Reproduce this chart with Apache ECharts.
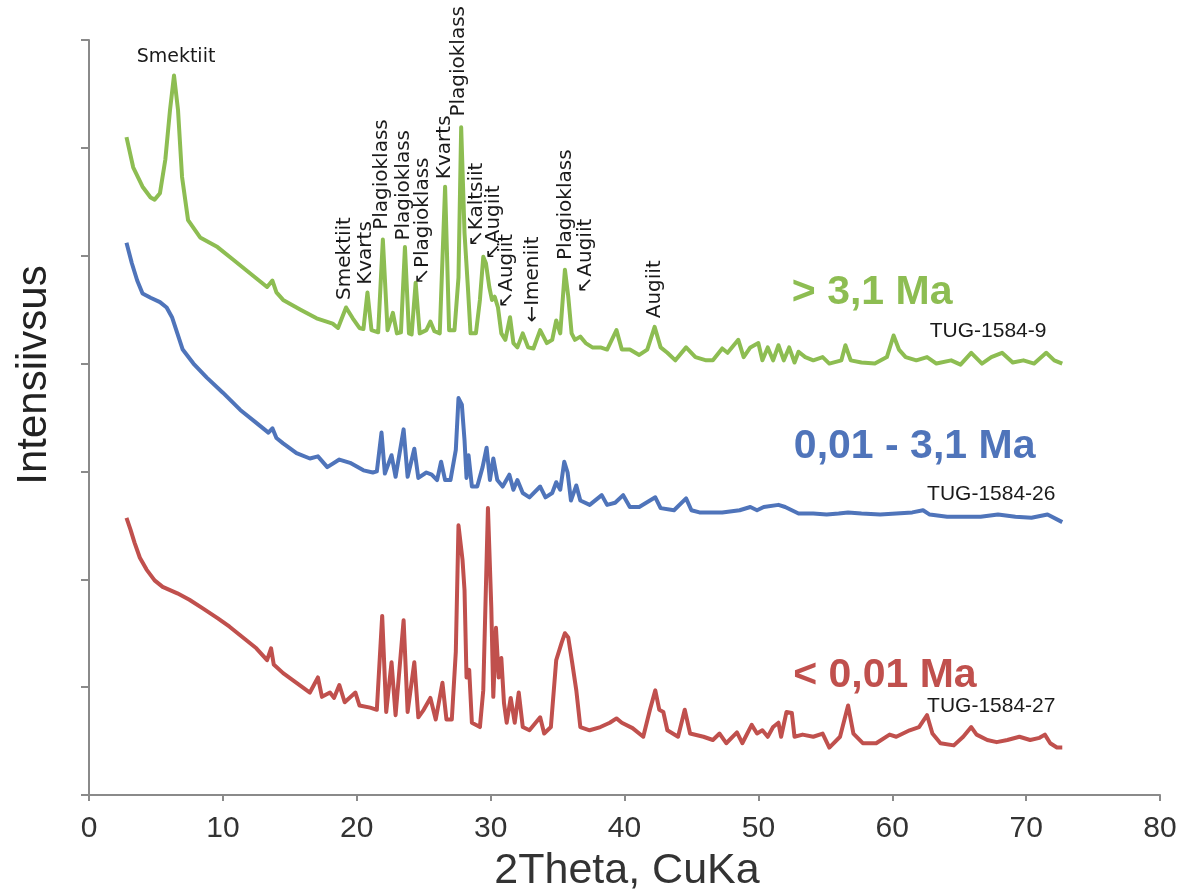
<!DOCTYPE html>
<html>
<head>
<meta charset="utf-8">
<title>XRD – Intensiivsus vs 2Theta</title>
<script src="https://cdn.jsdelivr.net/npm/echarts@6/dist/echarts.min.js"></script>
<style>
  html, body { margin: 0; padding: 0; background: #fff; }
  #chart { width: 1180px; height: 892px; }
</style>
</head>
<body>
<div id="chart"></div>
<script>
// [2Theta, intensity]
const greenPattern = [
  [2.8,6100],[3.3,5820],[4.0,5640],[4.6,5540],[4.9,5520],[5.3,5580],[5.7,5890],[6.05,6350],[6.35,6670],[6.65,6350],
  [6.95,5730],[7.4,5330],[8.3,5170],[9.6,5080],[10.8,4960],[12.0,4840],[13.3,4710],[13.7,4770],[14.0,4660],[14.5,4590],
  [15.8,4500],[17.0,4420],[18.2,4370],[18.6,4330],[19.2,4520],[19.7,4420],[20.2,4330],[20.5,4320],[20.8,4660],[21.1,4310],
  [21.6,4290],[21.95,5150],[22.3,4310],[22.7,4470],[23.0,4280],[23.3,4290],[23.6,5080],[23.9,4280],[24.1,4270],[24.4,4750],
  [24.7,4280],[25.2,4310],[25.5,4390],[25.8,4300],[26.2,4280],[26.6,5640],[26.9,4310],[27.3,4310],[27.6,4800],[27.8,6190],
  [28.05,5210],[28.3,4710],[28.5,4280],[28.9,4280],[29.2,4590],[29.45,4990],[29.65,4930],[29.9,4710],[30.1,4590],[30.3,4620],
  [30.55,4520],[30.8,4280],[31.1,4220],[31.45,4430],[31.7,4190],[32.0,4150],[32.4,4280],[32.8,4150],[33.2,4140],[33.7,4310],
  [34.2,4190],[34.6,4220],[34.9,4400],[35.2,4280],[35.55,4870],[35.8,4620],[36.05,4280],[36.3,4220],[36.7,4250],[37.1,4190],
  [37.6,4150],[38.2,4150],[38.7,4130],[39.4,4310],[39.8,4130],[40.4,4130],[41.1,4080],[41.7,4130],[42.25,4340],[42.7,4150],
  [43.2,4100],[43.8,4030],[44.6,4150],[45.3,4060],[46.1,4030],[46.6,4030],[47.3,4140],[47.7,4100],[48.5,4220],[48.9,4060],
  [49.4,4150],[50.0,4190],[50.3,4030],[50.7,4150],[51.1,4030],[51.5,4170],[51.9,4030],[52.3,4150],[52.7,4010],[53.0,4110],
  [53.5,4060],[54.1,4030],[54.8,4060],[55.3,4000],[56.2,4030],[56.5,4170],[56.9,4030],[57.7,4010],[58.7,4000],[59.6,4060],
  [60.1,4260],[60.5,4130],[61.0,4060],[61.8,4030],[62.6,4060],[63.3,4000],[64.4,4030],[65.1,3990],[65.9,4100],[66.7,4000],
  [67.4,4060],[68.2,4100],[69.0,4010],[69.8,4030],[70.6,4000],[71.5,4100],[72.1,4030],[72.7,4000]
];

const bluePattern = [
  [2.8,5120],[3.2,4930],[3.6,4770],[4.0,4650],[4.6,4610],[5.3,4570],[5.8,4520],[6.2,4430],[6.6,4280],[7.0,4130],
  [7.8,4000],[8.8,3870],[10.0,3730],[11.3,3570],[12.5,3450],[13.4,3360],[13.7,3400],[14.0,3310],[14.5,3260],[15.5,3170],
  [16.5,3120],[17.1,3140],[17.8,3040],[18.7,3110],[19.5,3080],[20.5,3010],[21.2,2990],[21.5,3000],[21.85,3360],[22.1,2980],
  [22.6,3150],[22.9,2950],[23.5,3390],[23.8,2950],[24.3,3210],[24.6,2940],[25.2,2990],[25.6,2970],[26.0,2920],[26.3,3090],
  [26.6,2920],[27.0,2920],[27.4,3200],[27.6,3680],[27.85,3620],[28.05,3290],[28.2,2940],[28.35,3150],[28.6,2860],[29.0,2860],
  [29.4,3040],[29.7,3220],[29.95,2920],[30.2,3120],[30.5,2920],[30.9,2860],[31.4,2970],[31.7,2830],[32.0,2920],[32.4,2800],
  [32.9,2760],[33.7,2860],[34.1,2760],[34.6,2800],[34.9,2900],[35.2,2830],[35.5,3090],[35.75,2990],[36.0,2730],[36.4,2870],
  [36.7,2730],[37.4,2690],[38.3,2780],[38.7,2690],[39.3,2710],[39.9,2780],[40.4,2670],[41.1,2670],[42.3,2760],[42.7,2660],
  [43.7,2640],[44.6,2750],[45.0,2640],[45.6,2620],[46.1,2620],[47.3,2620],[48.6,2640],[49.4,2670],[49.9,2640],[50.4,2670],
  [51.5,2690],[52.0,2670],[53.0,2610],[54.1,2610],[55.1,2600],[56.0,2610],[56.7,2620],[57.7,2610],[59.1,2600],[60.3,2610],
  [61.5,2620],[62.3,2640],[62.8,2600],[64.1,2580],[65.4,2580],[66.6,2580],[67.9,2600],[69.2,2580],[70.4,2570],[71.6,2600],
  [72.7,2530]
];

const redPattern = [
  [2.8,2570],[3.1,2460],[3.4,2340],[3.8,2200],[4.3,2090],[4.9,1990],[5.5,1930],[6.6,1870],[7.5,1810],[8.5,1730],
  [9.6,1640],[10.5,1560],[11.5,1460],[12.5,1360],[13.3,1250],[13.6,1360],[13.8,1210],[14.5,1130],[15.5,1040],[16.5,950],
  [17.1,1090],[17.4,910],[18.0,950],[18.3,900],[18.7,1020],[19.1,860],[19.9,950],[20.2,830],[21.0,810],[21.5,790],
  [21.9,1660],[22.2,770],[22.6,1230],[22.9,740],[23.5,1620],[23.8,770],[24.3,1230],[24.6,720],[25.0,790],[25.5,900],
  [25.9,700],[26.4,1040],[26.7,700],[27.1,700],[27.4,1330],[27.6,2500],[27.9,2180],[28.05,1900],[28.2,1090],[28.4,1160],
  [28.6,670],[29.2,630],[29.45,970],[29.8,2660],[30.05,1740],[30.2,910],[30.4,1550],[30.6,1090],[30.8,1270],[31.0,850],
  [31.2,670],[31.5,900],[31.8,670],[32.1,950],[32.4,630],[32.9,600],[33.7,720],[34.0,570],[34.5,630],[34.9,1250],
  [35.3,1410],[35.55,1500],[35.8,1460],[36.1,1220],[36.4,970],[36.7,630],[37.4,600],[38.2,630],[38.9,670],[39.4,710],
  [39.8,670],[40.6,620],[41.4,540],[41.9,790],[42.3,970],[42.6,790],[42.9,770],[43.2,600],[44.0,540],[44.5,790],
  [44.9,570],[45.9,540],[46.6,510],[47.1,570],[47.6,480],[48.4,580],[48.8,480],[49.5,650],[49.9,570],[50.3,600],
  [50.7,540],[51.1,630],[51.5,670],[51.7,540],[52.1,770],[52.5,760],[52.7,540],[53.3,560],[54.1,540],[54.8,570],
  [55.3,440],[56.1,540],[56.7,830],[57.1,570],[57.8,480],[58.8,480],[59.8,560],[60.3,540],[61.3,600],[62.0,630],
  [62.6,740],[63.0,570],[63.6,480],[64.6,460],[65.3,540],[65.9,630],[66.3,560],[67.1,510],[67.8,490],[68.6,510],
  [69.5,540],[70.3,510],[71.0,530],[71.4,560],[71.8,480],[72.3,440],[72.7,440]
];

const xTicks = [0, 80, 10];           // min, max, step
const yTicks = [0, 7000, 1000];

// mineral names: [text, 2Theta, intensity at foot of the text]
const mineralLabels = [
  ['Smektiit', 19.1, 4590],
  ['Kvarts', 20.7, 4730],
  ['Plagioklass', 21.9, 5240],
  ['Plagioklass', 23.5, 5140],
  ['\u2196Plagioklass', 24.9, 4730],
  ['Kvarts', 26.6, 5710],
  ['Plagioklass', 27.65, 6290],
  ['\u2196Kaltsiit', 29.0, 5080],
  ['\u2196Augiit', 30.2, 4960],
  ['\u2196Augiit', 31.2, 4510],
  ['\u2190Imeniit', 33.15, 4380],
  ['Plagioklass', 35.6, 4960],
  ['\u2196Augiit', 37.1, 4650],
  ['Augiit', 42.3, 4420]
];
const topLabel = ['Smektiit', 6.5, 6840];

const sampleAges = ['> 3,1 Ma', '0,01 - 3,1 Ma', '< 0,01 Ma'];
const sampleIds = ['TUG-1584-9', 'TUG-1584-26', 'TUG-1584-27'];
const ageAt = [[52.5, 4660], [52.65, 3230], [52.6, 1110]];
const idAt = [[62.8, 4300], [62.6, 2790], [62.6, 820]];

const colors = ['#8dbd52', '#4f74ba', '#c0504d'];
const patterns = [greenPattern, bluePattern, redPattern];

const arial = "'Liberation Sans', Arial, sans-serif";
const axisGrey = '#8a8a8a';

const chart = echarts.init(document.getElementById('chart'));

const lineSeries = patterns.map((data, i) => ({
  name: sampleIds[i],
  type: 'line',
  data: data,
  showSymbol: false,
  smooth: false,
  z: 2,
  lineStyle: { width: 4, color: colors[i], join: 'round' },
  itemStyle: { color: colors[i] }
}));

const mineralSeries = {
  type: 'scatter',
  silent: true,
  clip: false,
  symbolSize: 0,
  z: 5,
  itemStyle: { opacity: 1 },
  data: mineralLabels.map((m) => ({ name: m[0], value: [m[1], m[2]] })).concat([{
    name: topLabel[0],
    value: [topLabel[1], topLabel[2]],
    label: { rotate: 0, align: 'center', fontSize: 19 }
  }]),
  label: {
    show: true,
    formatter: '{b}',
    position: [0, 0],
    rotate: 90,
    align: 'left',
    verticalAlign: 'middle',
    fontFamily: "'DejaVu Sans', sans-serif",
    fontSize: 20,
    color: '#1a1a1a',
    opacity: 1
  }
};

const sampleSeries = {
  type: 'scatter',
  silent: true,
  clip: false,
  symbolSize: 0,
  z: 5,
  itemStyle: { opacity: 1 },
  data: sampleAges.map((t, i) => ({
    name: t,
    value: ageAt[i],
    label: { color: colors[i], fontSize: 41, fontWeight: 'bold', fontFamily: arial }
  })).concat(sampleIds.map((t, i) => ({
    name: t,
    value: idAt[i],
    label: { color: '#1a1a1a', fontSize: 21, fontFamily: arial }
  }))),
  label: {
    show: true,
    formatter: '{b}',
    position: [0, 0],
    align: 'left',
    verticalAlign: 'middle',
    opacity: 1
  }
};

chart.setOption({
  animation: false,
  backgroundColor: '#fff',
  grid: { left: 89, right: 20, top: 40, bottom: 97, containLabel: false, outerBoundsMode: 'none' },
  xAxis: {
    type: 'value',
    min: xTicks[0],
    max: xTicks[1],
    interval: xTicks[2],
    axisLine: { show: true, onZero: false, lineStyle: { color: axisGrey, width: 2 } },
    axisTick: { show: true, length: 6, lineStyle: { color: axisGrey, width: 2 } },
    axisLabel: { fontFamily: arial, fontSize: 30, color: '#333', margin: 19 },
    splitLine: { show: false }
  },
  yAxis: {
    type: 'value',
    min: yTicks[0],
    max: yTicks[1],
    interval: yTicks[2],
    axisLine: { show: true, onZero: false, lineStyle: { color: axisGrey, width: 2 } },
    axisTick: { show: true, length: 8, lineStyle: { color: axisGrey, width: 2 } },
    axisLabel: { show: false },
    splitLine: { show: false }
  },
  graphic: [{
    type: 'text',
    x: 34,
    y: 375,
    rotation: Math.PI / 2,
    style: {
      text: 'Intensiivsus',
      fontFamily: arial,
      fontSize: 42,
      fill: '#222',
      align: 'center',
      verticalAlign: 'middle'
    }
  }, {
    type: 'text',
    x: 627,
    y: 871,
    style: {
      text: '2Theta, CuKa',
      fontFamily: arial,
      fontSize: 43,
      fill: '#333',
      align: 'center',
      verticalAlign: 'middle'
    }
  }],
  series: lineSeries.concat([mineralSeries, sampleSeries])
});
</script>
</body>
</html>
